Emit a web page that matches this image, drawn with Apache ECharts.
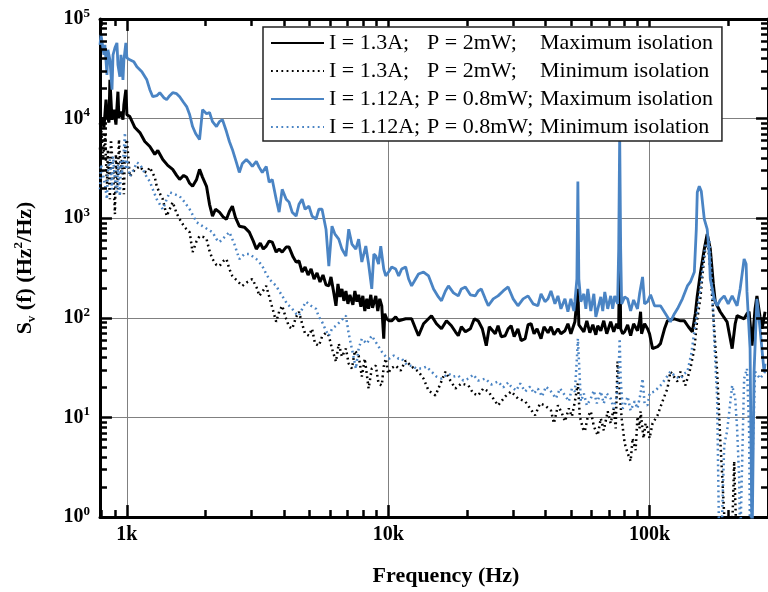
<!DOCTYPE html>
<html>
<head>
<meta charset="utf-8">
<script src="https://cdn.jsdelivr.net/npm/echarts@6.0.0/dist/echarts.min.js"></script>
<style>
html,body{margin:0;padding:0;background:#fff;}
#one{width:768px;height:592px;}
</style>
</head>
<body>
<div id="one"></div>
<script>
// spectra: [frequency Hz, S_v Hz^2/Hz]
var blackMaxIso = [[789,8710],[803,10230],[817,8130],[832,15490],[839,10960],[854,9120],[861,24550],[877,9770],[892,12300],[908,8710],[924,18620],[932,10230],[949,11750],[966,9770],[974,13800],[991,19500],[1000,10960],[1026,10470],[1073,8130],[1121,7240],[1171,5890],[1224,5250],[1279,4370],[1313,4790],[1372,3890],[1433,3390],[1497,3090],[1550,2690],[1592,2450],[1649,2690],[1693,2570],[1738,2240],[1784,2090],[1848,2450],[1897,3090],[1948,2570],[2017,2090],[2071,1380],[2126,1050],[2183,1230],[2260,1150],[2342,1020],[2404,977],[2467,1170],[2533,1320],[2602,1020],[2693,832],[2815,813],[2940,724],[3046,589],[3128,490],[3240,562],[3326,490],[3414,525],[3503,589],[3599,575],[3727,457],[3824,490],[3929,457],[4069,513],[4174,513],[4327,407],[4442,363],[4556,372],[4683,288],[4808,324],[4935,269],[5068,309],[5203,245],[5341,282],[5483,229],[5629,269],[5780,214],[5926,209],[6039,257],[6200,174],[6310,132],[6422,219],[6535,162],[6651,195],[6768,148],[6888,186],[7012,138],[7135,170],[7325,135],[7455,186],[7586,145],[7707,170],[7858,129],[7995,166],[8136,117],[8280,155],[8412,123],[8577,170],[8710,126],[8964,166],[9120,117],[9282,155],[9446,132],[9613,61.7],[9698,110],[9869,97.7],[10090,93.3],[10310,93.3],[10680,102],[10965,93.3],[11660,97.7],[12290,97.7],[12730,77.6],[13060,66.1],[13650,87.1],[14640,105],[15300,87.1],[15990,77.6],[16710,93.3],[17450,83.2],[18080,72.4],[18540,66.1],[19050,81.3],[19740,72.4],[20620,77.6],[21360,97.7],[22090,93.3],[22910,77.6],[23730,52.5],[24370,81.3],[24800,81.3],[25680,69.2],[26320,83.2],[27060,64.6],[28030,66.1],[28770,77.6],[29540,83.2],[30340,64.6],[31360,77.6],[32260,58.9],[33410,61.7],[34290,85.1],[35220,87.1],[36150,69.2],[37120,77.6],[38440,61.7],[39460,81.3],[40870,70.8],[41960,81.3],[43070,67.6],[44620,77.6],[45810,69.2],[47460,74.1],[48710,87.1],[50000,69.2],[51800,91.2],[52720,87.1],[53180,195],[53640,85.1],[54590,83.2],[56050,72.4],[57540,93.3],[59080,70.8],[60680,85.1],[62300,67.6],[63340,83.2],[65080,74.1],[66810,93.3],[68590,69.2],[71020,91.2],[72930,72.4],[74860,87.1],[76200,77.6],[76870,646],[77540,77.6],[78890,69.2],[80320,72.4],[82460,85.1],[84660,66.1],[86900,87.1],[89930,74.1],[91600,93.3],[92400,115],[93200,69.2],[95720,87.1],[98260,77.6],[100000,69.2],[102700,49.0],[104500,49.0],[107300,51.3],[110100,55.0],[114100,77.6],[117100,93.3],[124500,97.7],[131300,93.3],[135900,93.3],[140800,81.3],[145800,72.4],[149700,110],[152300,166],[156400,275],[162000,490],[166200,692],[170800,490],[175400,219],[178400,145],[186400,115],[198000,91.2],[207100,49.0],[212700,87.1],[216300,105],[230100,97.7],[236000,110],[240400,115],[246800,52.5],[253400,123],[257600,166],[264800,102],[269500,77.6],[276800,115]];

var blackMinIso = [[789,4900],[796,8710],[810,3890],[824,6920],[839,2190],[846,4900],[861,1550],[869,6170],[885,3090],[900,1100],[908,4370],[924,1950],[932,6170],[949,2750],[957,3890],[974,1740],[983,4900],[1000,6170],[1026,2630],[1073,3090],[1121,3310],[1161,2950],[1192,2880],[1224,3240],[1245,3240],[1279,2570],[1301,2090],[1336,1780],[1372,1550],[1420,1050],[1458,1230],[1497,1450],[1550,1120],[1592,977],[1663,813],[1738,724],[1784,457],[1848,589],[1897,661],[1965,646],[2017,617],[2071,468],[2126,389],[2202,339],[2260,331],[2342,372],[2404,389],[2467,309],[2533,263],[2648,234],[2766,209],[2891,229],[3020,245],[3155,195],[3209,166],[3297,182],[3414,209],[3567,138],[3727,91.2],[3824,115],[3929,132],[4069,97.7],[4174,81.3],[4290,77.6],[4442,102],[4556,115],[4683,87.1],[4808,69.2],[4973,66.1],[5111,77.6],[5248,55.0],[5429,52.5],[5581,64.6],[5780,70.8],[5926,66.1],[6093,49.0],[6310,36.3],[6468,55.0],[6651,40.7],[6888,49.0],[7060,34.7],[7261,30.9],[7455,46.8],[7707,41.7],[7925,25.7],[8136,38.9],[8412,19.5],[8651,30.9],[8964,33.1],[9183,21.9],[9446,20.9],[9613,32.4],[9784,38.9],[10000,27.5],[10220,30.9],[10680,33.1],[11160,29.5],[11660,37.2],[12290,32.4],[13060,28.8],[13650,24.5],[14270,18.6],[15170,16.6],[15850,21.9],[16560,28.8],[17300,23.4],[18080,19.5],[19050,21.9],[20270,20.9],[21170,17.4],[22090,16.6],[23110,19.5],[24150,18.2],[25230,15.5],[26320,13.2],[28030,16.2],[29540,18.2],[31360,15.5],[33410,14.5],[34910,12.3],[36470,10.5],[38110,13.8],[39810,13.2],[41960,11.7],[43070,8.71],[44620,13.2],[46210,11.0],[47460,9.12],[49130,12.3],[50460,10.2],[51800,14.5],[53180,21.9],[54110,10.2],[55560,7.76],[56550,7.24],[58050,10.2],[59600,11.5],[61220,8.13],[63340,6.61],[65080,9.77],[66810,7.41],[69180,11.5],[71020,8.71],[72930,12.3],[74210,7.76],[75470,36.3],[76870,17.4],[78210,9.77],[80320,5.50],[82460,4.37],[84660,3.63],[86130,6.17],[88450,4.68],[89930,10.2],[91600,7.76],[92400,11.5],[94860,6.17],[96560,8.71],[98260,7.76],[100000,6.17],[102700,8.71],[107300,10.5],[112100,14.5],[117100,19.5],[120200,28.8],[127900,22.9],[131300,28.8],[137100,20.9],[143300,30.9],[148400,49.0],[152300,97.7],[156400,155],[162000,417],[166200,646],[170800,309],[176800,77.6],[181400,28.8],[186400,6.17],[193100,1.05],[196500,0.4],[205300,0.4],[208900,1.55],[210800,3.63],[212700,1.55],[216300,0.4],[276800,0.4]];

var blueMaxIso = [[789,55000],[796,69200],[803,72400],[817,43700],[824,55000],[839,27500],[846,49000],[861,38900],[877,19500],[885,43700],[900,51300],[916,57500],[924,34700],[940,26300],[949,43700],[966,24500],[974,38900],[991,57500],[1000,40700],[1026,38900],[1063,37200],[1092,33100],[1141,29500],[1192,24500],[1224,19500],[1256,16600],[1301,17000],[1336,18200],[1384,16200],[1420,15500],[1458,17000],[1497,18200],[1550,17800],[1592,16600],[1649,14500],[1693,13200],[1738,11000],[1784,8320],[1832,7080],[1897,6170],[1948,12300],[2017,11200],[2071,11500],[2126,9330],[2202,8320],[2260,9330],[2321,9770],[2404,7410],[2467,5890],[2533,4900],[2624,3630],[2693,2880],[2766,3550],[2865,3890],[2940,3630],[3020,3310],[3128,3720],[3209,3240],[3297,2880],[3414,3310],[3503,2290],[3599,2450],[3727,1550],[3824,1150],[3929,1950],[4069,1550],[4174,1450],[4290,1150],[4442,1050],[4556,1380],[4683,1550],[4808,1230],[4973,1320],[5111,1050],[5293,977],[5429,1230],[5581,1230],[5780,776],[5926,331],[6093,832],[6254,692],[6468,617],[6651,490],[6888,417],[7060,776],[7261,550],[7519,490],[7707,617],[7925,363],[8208,525],[8412,347],[8651,195],[8810,437],[8964,417],[9183,347],[9364,525],[9613,309],[9784,263],[10090,295],[10310,324],[10680,309],[10965,263],[11260,309],[11660,324],[11970,245],[12290,209],[12730,245],[13060,275],[13650,288],[14270,263],[14910,195],[15560,162],[15990,148],[16560,186],[17000,209],[17770,178],[18540,166],[19050,195],[19740,204],[20620,170],[21540,166],[22090,186],[22710,195],[23520,155],[24150,132],[25230,155],[26320,166],[27540,186],[28770,204],[30070,155],[31360,132],[32830,155],[34290,166],[35840,138],[37370,132],[38440,174],[39810,145],[40870,155],[41960,186],[43450,138],[44620,166],[45810,123],[47460,155],[48710,115],[50000,155],[51340,117],[51800,145],[52720,245],[53180,2340],[53640,245],[54590,145],[56050,174],[57050,123],[58050,195],[59600,117],[61220,174],[62300,102],[63340,105],[65080,162],[66220,117],[67410,182],[69180,123],[71020,166],[72280,123],[73560,166],[75470,138],[76200,490],[76870,6920],[77540,490],[78210,138],[80320,162],[82460,155],[84660,117],[86900,151],[89930,123],[91600,174],[94040,257],[95720,138],[98260,145],[100900,170],[104500,132],[110100,132],[115100,110],[120200,91.2],[124500,110],[127900,123],[133600,155],[139600,209],[143300,229],[148400,288],[151000,776],[152300,1820],[155000,2090],[157800,1860],[162000,977],[166200,776],[169300,437],[170800,245],[176800,155],[181400,132],[186400,151],[193100,166],[200000,138],[207100,166],[216300,132],[222200,195],[230100,389],[234200,347],[236000,182],[242500,49.0],[246800,0.5],[251200,28.8],[257600,155],[264800,77.6],[274300,28.8],[276800,34.7]];

var blueMinIso = [[789,1950],[796,3470],[810,3630],[824,2190],[839,1550],[846,3090],[861,3890],[877,1950],[885,4170],[900,2450],[916,1740],[924,3470],[940,1660],[949,3890],[957,2750],[974,4900],[983,7240],[991,3090],[1000,3890],[1026,2630],[1063,3090],[1092,3630],[1121,3470],[1151,3090],[1192,2570],[1224,2340],[1256,1950],[1301,1550],[1336,1380],[1372,1230],[1420,1550],[1458,1820],[1524,1740],[1592,1660],[1663,1450],[1738,1230],[1848,912],[1948,832],[2035,776],[2126,724],[2202,617],[2260,575],[2362,646],[2467,724],[2578,550],[2693,389],[2815,437],[2940,437],[3128,389],[3209,363],[3297,331],[3414,275],[3503,245],[3599,229],[3727,209],[3824,186],[3929,166],[4105,138],[4290,123],[4442,110],[4556,105],[4725,129],[4850,145],[5068,132],[5293,123],[5429,102],[5581,91.2],[5780,74.1],[5926,66.1],[6093,77.6],[6310,83.2],[6592,93.3],[6888,105],[7060,69.2],[7325,43.7],[7519,30.9],[7707,49.0],[7925,61.7],[8280,55.0],[8651,66.1],[9040,55.0],[9446,45.7],[9784,40.7],[10090,38.9],[10500,41.7],[10965,38.9],[11260,38.9],[11660,34.7],[11970,33.1],[12290,33.1],[12840,30.9],[13420,30.9],[14020,32.4],[14640,28.8],[15300,25.7],[15990,24.5],[17000,27.5],[17770,25.7],[18540,26.3],[19390,23.4],[20270,24.5],[21170,26.9],[22090,23.4],[23520,24.5],[24800,21.4],[26320,22.9],[27540,20.0],[28770,22.4],[29540,20.4],[30870,18.6],[31980,21.9],[33410,18.2],[34910,20.4],[36150,17.4],[37370,19.5],[38780,16.2],[40160,20.4],[41960,18.2],[43830,15.5],[45420,19.5],[47460,16.6],[49130,14.5],[50460,19.5],[51800,18.2],[52720,38.9],[53180,61.7],[53640,38.9],[54590,14.5],[56050,17.4],[57540,13.2],[59600,15.5],[61220,18.6],[62850,13.8],[65080,18.2],[66810,13.8],[68590,17.4],[71020,15.5],[72930,12.3],[74860,16.2],[76200,30.9],[76870,61.7],[77540,24.5],[78890,12.3],[80320,13.2],[82460,16.2],[84660,11.7],[87700,14.5],[89930,12.3],[92400,17.4],[94040,24.5],[95720,13.8],[98260,13.2],[100000,17.4],[104500,18.2],[110100,20.9],[115100,24.5],[120200,28.8],[125600,25.7],[131300,24.5],[135900,27.5],[139600,28.8],[144500,43.7],[148400,72.4],[152300,117],[156400,195],[163400,525],[169300,617],[173800,195],[176800,61.7],[181400,15.5],[184800,0.5],[188100,0.5],[193100,5.25],[198000,7.24],[207100,20.9],[212700,15.5],[216300,7.76],[220300,2.45],[222200,0.5],[226100,0.5],[230100,24.5],[236000,30.9],[240400,7.76],[242500,0.5],[246800,2.45],[253400,28.8],[264800,24.5],[276800,28.8]];

// legend columns
var currents = ['I = 1.3A;', 'I = 1.3A;', 'I = 1.12A;', 'I = 1.12A;'];
var powers = ['P = 2mW;', 'P = 2mW;', 'P = 0.8mW;', 'P = 0.8mW;'];
var isolations = ['Maximum isolation', 'Minimum isolation', 'Maximum isolation', 'Minimum isolation'];

// axes
var xMin = 789, xMax = 284000;
var yMin = 1, yMax = 100000;
var xMajor = [1000, 10000, 100000];
var xMinor = [800, 900, 2000, 3000, 4000, 5000, 6000, 7000, 8000, 9000, 20000, 30000, 40000, 50000, 60000, 70000, 80000, 90000, 200000];
var yMajor = [1, 10, 100, 1000, 10000, 100000];
var yMinor = [2, 3, 4, 5, 6, 7, 8, 9, 20, 30, 40, 50, 60, 70, 80, 90, 200, 300, 400, 500, 600, 700, 800, 900, 2000, 3000, 4000, 5000, 6000, 7000, 8000, 9000, 20000, 30000, 40000, 50000, 60000, 70000, 80000, 90000];

var serif = "'Liberation Serif','Times New Roman',serif";
var blue = '#4a84c4';

var names = [];
for (var i = 0; i < currents.length; i++) {
	names.push(currents[i] + ' ' + powers[i] + ' ' + isolations[i]);
}

var myChart = echarts.init(document.getElementById('one'));

function xAx(pos, label, split) {
	return {
		type: 'log', logBase: 10, min: xMin, max: xMax, position: pos,
		axisLine: { show: true, lineStyle: { color: '#000', width: 3 } },
		axisTick: { show: false },
		axisLabel: label ? {
			show: true, customValues: xMajor, margin: 8,
			fontFamily: serif, fontWeight: 'bold', fontSize: 20, color: '#000',
			formatter: function (v) { return Math.round(v / 1000) + 'k'; }
		} : { show: false },
		splitLine: { show: split, lineStyle: { color: '#808080', width: 1 } }
	};
}
function yAx(pos, label, split) {
	return {
		type: 'log', logBase: 10, min: yMin, max: yMax, position: pos,
		axisLine: { show: true, lineStyle: { color: '#000', width: 3 } },
		axisTick: { show: false },
		axisLabel: label ? {
			show: true, customValues: yMajor, margin: 10, color: '#000',
			formatter: function (v) {
				return '{b|10}{e|' + Math.round(Math.log(v) / Math.LN10) + '}';
			},
			rich: {
				b: { fontFamily: serif, fontWeight: 'bold', fontSize: 20, lineHeight: 24, color: '#000' },
				e: { fontFamily: serif, fontWeight: 'bold', fontSize: 13, lineHeight: 24, verticalAlign: 'top', color: '#000' }
			}
		} : { show: false },
		splitLine: { show: split, lineStyle: { color: '#808080', width: 1 } }
	};
}

var xAxes = [xAx('bottom', true, true), xAx('top', false, false)];
xAxes[0].name = 'Frequency (Hz)';
xAxes[0].nameLocation = 'middle';
xAxes[0].nameGap = 48;
xAxes[0].nameTextStyle = { fontFamily: serif, fontWeight: 'bold', fontSize: 22, color: '#000', padding: [0, 0, 0, 24] };

var yAxes = [yAx('left', true, true), yAx('right', false, false)];
yAxes[0].name = '{s|S}{sub|v}{s| (f) (Hz}{sup|2}{s|/Hz)}';
yAxes[0].nameLocation = 'middle';
yAxes[0].nameRotate = 90;
yAxes[0].nameGap = 62;
yAxes[0].nameTextStyle = {
	color: '#000',
	rich: {
		s: { fontFamily: serif, fontWeight: 'bold', fontSize: 22, lineHeight: 26, color: '#000' },
		sub: { fontFamily: serif, fontWeight: 'bold', fontSize: 13, lineHeight: 26, verticalAlign: 'bottom', color: '#000' },
		sup: { fontFamily: serif, fontWeight: 'bold', fontSize: 13, lineHeight: 26, verticalAlign: 'top', color: '#000' }
	}
};

// inward tick marks on all four sides, as markLine segments placed through the log scales
// (tick length given as a factor along each log axis)
var yMajorLen = Math.pow(10, 0.12), yMinorLen = Math.pow(10, 0.07);
var xMajorLen = Math.pow(10, 12 / 262.5), xMinorLen = Math.pow(10, 7 / 262.5);
var tickSegs = [];
function addXTicks(vals, f) {
	for (var j = 0; j < vals.length; j++) {
		tickSegs.push([{ coord: [vals[j], yMin] }, { coord: [vals[j], yMin * f] }]);
		tickSegs.push([{ coord: [vals[j], yMax / f] }, { coord: [vals[j], yMax] }]);
	}
}
function addYTicks(vals, f) {
	for (var j = 0; j < vals.length; j++) {
		tickSegs.push([{ coord: [xMin, vals[j]] }, { coord: [xMin * f, vals[j]] }]);
		tickSegs.push([{ coord: [xMax / f, vals[j]] }, { coord: [xMax, vals[j]] }]);
	}
}
addXTicks(xMajor, yMajorLen);
addXTicks(xMinor, yMinorLen);
addYTicks(yMajor, xMajorLen);
addYTicks(yMinor, xMinorLen);

var seriesData = [blackMaxIso, blackMinIso, blueMaxIso, blueMinIso];
var colors = ['#000', '#000', blue, blue];
var dash = ['solid', [1.8, 3.4], 'solid', [1.8, 3.4]];
var widths = [3, 2.5, 2.8, 2.5];
var series = [];
for (var k = 0; k < seriesData.length; k++) {
	series.push({
		type: 'line', name: names[k], data: seriesData[k],
		xAxisIndex: 0, yAxisIndex: 0,
		symbol: 'none', clip: true,
		color: colors[k],
		lineStyle: { color: colors[k], width: widths[k], type: dash[k] }
	});
}
series[0].markLine = {
	silent: true,
	animation: false,
	symbol: ['none', 'none'],
	precision: 6,
	label: { show: false },
	emphasis: { disabled: true },
	lineStyle: { color: '#000', width: 2.5, type: 'solid', opacity: 1 },
	data: tickSegs
};

myChart.setOption({
	animation: false,
	backgroundColor: '#fff',
	grid: { left: 100, right: -3, top: 19, bottom: 73, containLabel: false },
	legend: {
		orient: 'vertical', left: 263, top: 27,
		data: names,
		itemWidth: 53, itemHeight: 14, itemGap: 6,
		padding: [5, 9, 3, 7],
		backgroundColor: '#fff', borderColor: '#222', borderWidth: 1.5,
		z: 10,
		itemStyle: { opacity: 0 },
		formatter: function (name) {
			var i = names.indexOf(name);
			return '{a|' + currents[i] + '}{b|' + powers[i] + '}{c|' + isolations[i] + '}';
		},
		textStyle: {
			fontFamily: serif, fontSize: 22, lineHeight: 22, color: '#000',
			rich: {
				a: { fontFamily: serif, fontSize: 22, lineHeight: 22, color: '#000', width: 98 },
				b: { fontFamily: serif, fontSize: 22, lineHeight: 22, color: '#000', width: 113 },
				c: { fontFamily: serif, fontSize: 22, lineHeight: 22, color: '#000' }
			}
		}
	},
	xAxis: xAxes,
	yAxis: yAxes,
	series: series
});
</script>
</body>
</html>
